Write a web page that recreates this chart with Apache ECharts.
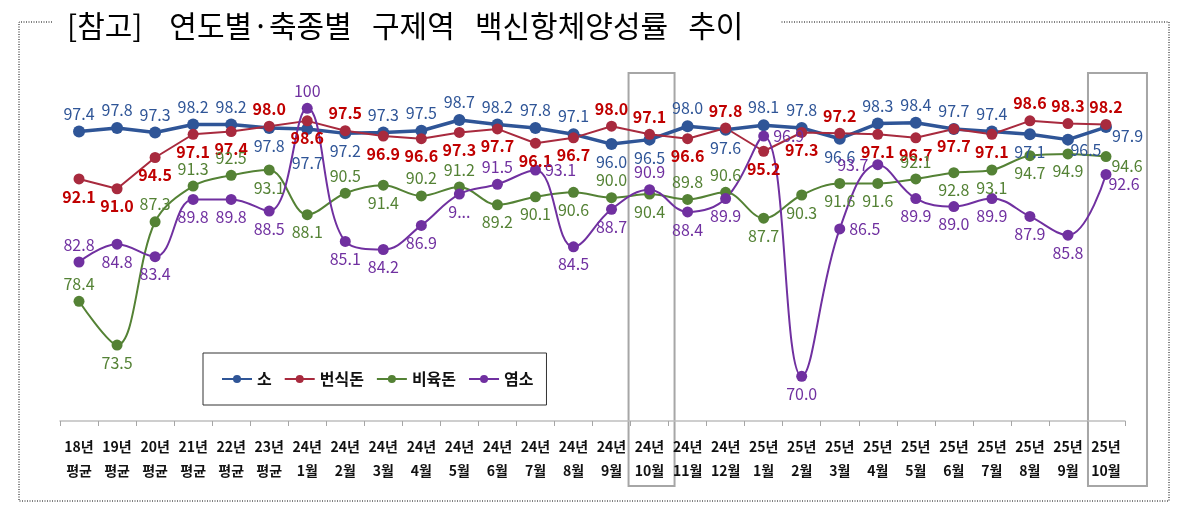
<!DOCTYPE html>
<html>
<head>
<meta charset="utf-8">
<script src="https://cdn.jsdelivr.net/npm/echarts@6/dist/echarts.min.js"></script>
<style>
  html, body { margin: 0; padding: 0; background: #fff; }
  #chart { width: 1188px; height: 510px; }
</style>
</head>
<body>
<div id="chart"></div>
<script>
// categories and values
var categories = ['18년\n평균', '19년\n평균', '20년\n평균', '21년\n평균', '22년\n평균', '23년\n평균',
    '24년\n1월', '24년\n2월', '24년\n3월', '24년\n4월', '24년\n5월', '24년\n6월',
    '24년\n7월', '24년\n8월', '24년\n9월', '24년\n10월', '24년\n11월', '24년\n12월',
    '25년\n1월', '25년\n2월', '25년\n3월', '25년\n4월', '25년\n5월', '25년\n6월',
    '25년\n7월', '25년\n8월', '25년\n9월', '25년\n10월'];
var seriesNames = ['소', '번식돈', '비육돈', '염소'];
var cattle = [97.4, 97.8, 97.3, 98.2, 98.2, 97.8, 97.7, 97.2, 97.3, 97.5, 98.7, 98.2, 97.8, 97.1,
    96.0, 96.5, 98.0, 97.6, 98.1, 97.8, 96.6, 98.3, 98.4, 97.7, 97.4, 97.1, 96.5, 97.9];
var sow = [92.1, 91.0, 94.5, 97.1, 97.4, 98.0, 98.6, 97.5, 96.9, 96.6, 97.3, 97.7, 96.1, 96.7,
    98.0, 97.1, 96.6, 97.8, 95.2, 97.3, 97.2, 97.1, 96.7, 97.7, 97.1, 98.6, 98.3, 98.2];
var finisher = [78.4, 73.5, 87.3, 91.3, 92.5, 93.1, 88.1, 90.5, 91.4, 90.2, 91.2, 89.2, 90.1, 90.6,
    90.0, 90.4, 89.8, 90.6, 87.7, 90.3, 91.6, 91.6, 92.1, 92.8, 93.1, 94.7, 94.9, 94.6];
var goat = [82.8, 84.8, 83.4, 89.8, 89.8, 88.5, 100, 85.1, 84.2, 86.9, 90.4, 91.5, 93.1, 84.5,
    88.7, 90.9, 88.4, 89.9, 96.9, 70.0, 86.5, 93.7, 89.9, 89.0, 89.9, 87.9, 85.8, 92.6];
// highlighted months (gray boxes)
var boxedCats = ['24년\n10월', '25년\n10월'];

// where each data label sits
var cattlePos = ['t','t','t','t','t','b','bb','b','t','t','t','t','t','t','b','b','t','b','t','t','b','t','t','t','t','b','br','rb'];
var sowPos = ['b','b','b','b','b','t','b','t','b','b','b','b','b','b','t','t','b','t','b','b','t','b','b','b','b','t','t','t'];
var finisherPos = ['t','b','t','t','t','b','b','t','b','t','t','b','b','b','t','b','t','t','b','b','b','b','t','b','b','b','b','rb'];
var goatPos = ['t','b','b','b','b','b','t','b','b','b','b','t','r','b','b','t','b','b','r','b','r','l','b','b','b','b','b','br'];

var posMap = {
    t: { position: 'top' },
    b: { position: 'bottom' },
    r: { position: 'right' },
    l: { position: 'left' },
    bb: { position: 'bottom', offset: [0, 16] },
    br: { position: 'bottom', offset: [18, -8] },
    rb: { position: 'right', offset: [-4, 9] }
};

function fmt(v) {
    return v === 100 ? '100' : v.toFixed(1);
}

function buildData(values, pos, textOverride) {
    return values.map(function (v, i) {
        var p = posMap[pos[i]];
        var lab = { position: p.position };
        if (p.offset) lab.offset = p.offset;
        if (textOverride && textOverride[i]) lab.formatter = textOverride[i];
        return { value: v, label: lab };
    });
}

var font = '"Noto Sans CJK KR", "Noto Sans", sans-serif';

function lineSeries(name, values, pos, color, labelColor, width, symSize, smooth, bold, textOverride) {
    return {
        name: name,
        type: 'line',
        data: buildData(values, pos, textOverride),
        smooth: smooth,
        symbol: 'circle',
        symbolSize: symSize,
        lineStyle: { color: color, width: width },
        itemStyle: { color: color },
        label: {
            show: true,
            distance: 4,
            color: labelColor,
            fontSize: 16,
            fontWeight: bold ? 'bold' : 'normal',
            fontFamily: font,
            formatter: function (p) { return fmt(p.value); }
        },
        emphasis: { disabled: true }
    };
}

var myChart = echarts.init(document.getElementById('chart'));
var option = {
    backgroundColor: '#fff',
    animation: false,
    title: {
        text: '[참고]    연도별·축종별   구제역   백신항체양성률   추이',
        left: 62,
        top: 6,
        textStyle: { fontSize: 30, fontWeight: 'normal', color: '#000', fontFamily: font }
    },
    legend: {
        data: seriesNames,
        left: 203,
        top: 353,
        orient: 'horizontal',
        itemWidth: 30,
        itemHeight: 10,
        itemGap: 12,
        padding: [18, 13, 18, 18],
        borderColor: '#333',
        borderWidth: 1,
        textStyle: { fontSize: 16, fontWeight: 'bold', color: '#111', fontFamily: font }
    },
    grid: { left: 60, right: 63, top: 63.7, bottom: 89 },
    xAxis: {
        type: 'category',
        data: categories,
        boundaryGap: true,
        axisLine: { lineStyle: { color: '#bfbfbf', width: 1.5 } },
        axisTick: { show: true, length: 5, lineStyle: { color: '#a6a6a6' } },
        axisLabel: {
            interval: 0,
            margin: 14,
            color: '#111',
            fontSize: 14,
            fontWeight: 'bold',
            lineHeight: 24,
            fontFamily: font
        }
    },
    yAxis: {
        type: 'value',
        min: 65,
        max: 105,
        show: false
    },
    series: [
        lineSeries('소', cattle, cattlePos, '#2F5597', '#2F5597', 3.5, 12, false, false),
        lineSeries('번식돈', sow, sowPos, '#A82A3E', '#C00000', 2, 11, false, true),
        lineSeries('비육돈', finisher, finisherPos, '#548235', '#548235', 2, 11, 0.35, false),
        lineSeries('염소', goat, goatPos, '#7030A0', '#7030A0', 2, 11, 0.4, false, { 10: '9...' })
    ]
};
myChart.setOption(option);

// gray boxes around highlighted months and the dotted frame
var boxOffsets = [[-21, 25], [-18, 41]];
var graphics = [];
boxedCats.forEach(function (c, i) {
    var cx = myChart.convertToPixel({ xAxisIndex: 0 }, c);
    graphics.push({
        type: 'rect',
        shape: { x: cx + boxOffsets[i][0], y: 73, width: boxOffsets[i][1] - boxOffsets[i][0], height: 413 },
        style: { fill: 'none', stroke: '#a6a6a6', lineWidth: 2 },
        z: 0
    });
});
graphics.push({
    type: 'polyline',
    shape: { points: [[52, 22], [19, 22], [19, 501], [1169, 501], [1169, 22], [780, 22]] },
    style: { fill: 'none', stroke: '#000', lineWidth: 1, lineDash: [1, 1.5] },
    z: 0
});
myChart.setOption({ graphic: graphics });
</script>
</body>
</html>
